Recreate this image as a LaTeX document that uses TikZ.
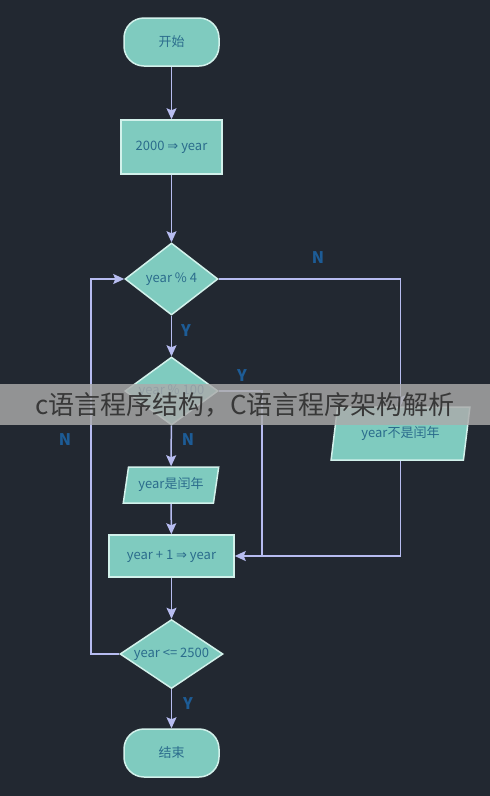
\documentclass[tikz,border=0pt]{standalone}
\usepackage{fontspec}
\setmainfont{Noto Sans CJK SC}
\newfontfamily\symfont{DejaVu Sans}
\usetikzlibrary{shapes.geometric,arrows.meta}

\definecolor{bgcol}{HTML}{222831}
\definecolor{boxcol}{HTML}{7FCBBF}
\definecolor{edgecol}{HTML}{D2F1EB}
\definecolor{linecol}{HTML}{B7BCF0}
\definecolor{txtcol}{HTML}{2B6C8C}
\definecolor{labcol}{HTML}{1D5C96}
\definecolor{bandcol}{HTML}{ABABAB}
\definecolor{bandtxt}{HTML}{383838}

\def\imp{{\symfont ⇒}}

\begin{document}
\begin{tikzpicture}[x=1pt,y=-1pt,
  every node/.style={font=\fontsize{13}{15}\selectfont, text=txtcol},
  blk/.style={draw=edgecol, fill=boxcol, line width=1.5pt, inner sep=0pt},
  term/.style={blk, rectangle, rounded corners=20pt, minimum width=95pt, minimum height=48pt},
  proc/.style={blk, rectangle},
  dec/.style={blk, diamond},
  io/.style={blk, trapezium, trapezium left angle=74, trapezium right angle=106, trapezium stretches=true},
  flow/.style={draw=linecol, line width=1.5pt, -{Stealth[length=11pt,width=10pt,inset=2pt]}},
  wire/.style={draw=linecol, line width=1.5pt},
  yn/.style={font=\bfseries\fontsize{16}{18}\selectfont, text=labcol}
]
  \fill[bgcol] (0,0) rectangle (490,796);
  \useasboundingbox (0,0) rectangle (490,796);

  % main column
  \node[term] (start) at (171.5,42) {开始};
  \node[proc, minimum width=101pt, minimum height=54pt] (init) at (171.5,147) {2000 \imp{} year};
  \node[dec, minimum width=93pt, minimum height=72pt] (d4) at (171.5,279) {\makebox[0pt]{year \% 4}};
  \node[dec, minimum width=93pt, minimum height=68pt] (d100) at (171.5,391) {\makebox[0pt]{year \% 100}};
  \node[io, minimum width=96pt, minimum height=36pt] (leap) at (171,485) {year是闰年};
  \node[proc, minimum width=125pt, minimum height=42pt] (inc) at (171.5,556) {year + 1 \imp{} year};
  \node[dec, minimum width=103pt, minimum height=69pt] (dend) at (171.5,654) {\makebox[0pt]{year <= 2500}};
  \node[term] (stop) at (171.5,753) {结束};

  % side branch
  \node[io, minimum width=139pt, minimum height=53pt] (notleap) at (400.5,433.5) {year不是闰年};
  \coordinate (mrg) at (262,556);

  \draw[flow] (start) -- (init);
  \draw[flow] (init) -- (d4);
  \draw[flow] (d4) -- (d100);
  \draw[flow] (d100) -- (leap);
  \draw[flow] (leap) -- (inc);
  \draw[flow] (inc) -- (dend);
  \draw[flow] (dend) -- (stop);
  \draw[flow] (d4.east) -| (notleap);
  \draw[flow] (notleap) |- (inc.east);
  \draw[wire] (d100.east) -| (mrg);
  \draw[flow] (dend.west) -- ++(-28.5,0) |- (d4.west);

  % Y / N marks
  \node[yn] (n4) at (318,258) {N};
  \node[yn] (y4) at (186,331) {Y};
  \node[yn] (y100) at (242,376) {Y};
  \node[yn] (nloop) at (65,440) {N};
  \node[yn] (n100) at (188,440) {N};
  \node[yn] (yend) at (188,704) {Y};

  % overlay band
  \fill[bandcol, opacity=0.82] (0,384) rectangle (490,425);
  \node[font=\fontsize{26}{28}\selectfont, text=bandtxt] (band) at (245,405) {c语言程序结构，C语言程序架构解析};
\end{tikzpicture}
\end{document}
